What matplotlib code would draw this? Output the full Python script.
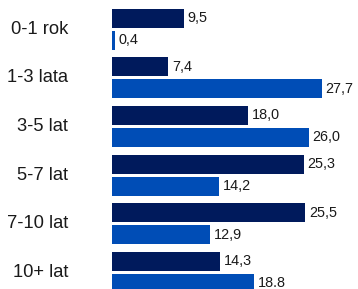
import matplotlib.pyplot as plt

categories = ['0-1 rok', '1-3 lata', '3-5 lat', '5-7 lat', '7-10 lat', '10+ lat']
dark_vals = [9.5, 7.4, 18.0, 25.3, 25.5, 14.3]
blue_vals = [0.4, 27.7, 26.0, 14.2, 12.9, 18.8]
dark_labels = ['9,5', '7,4', '18,0', '25,3', '25,5', '14,3']
blue_labels = ['0,4', '27,7', '26,0', '14,2', '12,9', '18.8']

dark_color = '#001a5c'
blue_color = '#004db6'
text_color = '#1a1a1a'

plt.rcParams['font.family'] = ['Liberation Sans', 'DejaVu Sans']

fig = plt.figure(figsize=(3.58, 2.89), dpi=100)
ax = fig.add_axes([112 / 358, 0, 246 / 358, 1])

off = 0.2263
h = 0.39
pos = list(range(len(categories)))

ax.barh([p - off for p in pos], dark_vals, height=h, color=dark_color)
ax.barh([p + off for p in pos], blue_vals, height=h, color=blue_color)

for p, v, s in zip(pos, dark_vals, dark_labels):
    ax.text(v + 0.5, p - off, s, va='center', ha='left', fontsize=10.4, color=text_color)
for p, v, s in zip(pos, blue_vals, blue_labels):
    ax.text(v + 0.5, p + off, s, va='center', ha='left', fontsize=10.4, color=text_color)

# category names, right aligned left of the axes
for p, c in zip(pos, categories):
    ax.annotate(c, xy=(0, p), xycoords=('axes fraction', 'data'),
                xytext=(-44, 0), textcoords='offset pixels',
                ha='right', va='center', fontsize=13.2, color=text_color,
                annotation_clip=False)

ax.set_xlim(0, 32.5)
ax.set_ylim(5.344, -0.603)
ax.axis('off')

fig.savefig('out.png', dpi=100)
